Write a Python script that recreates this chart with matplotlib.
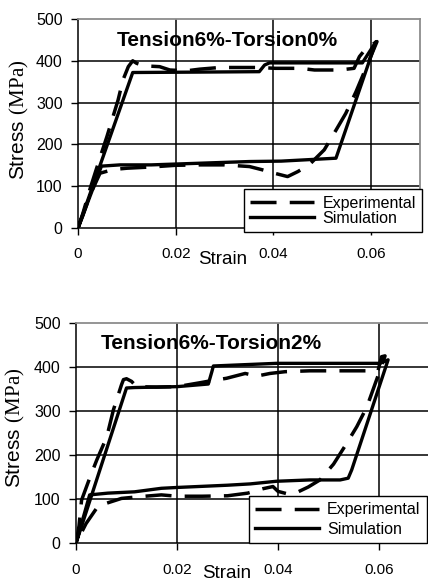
import matplotlib
matplotlib.use("Agg")
import matplotlib.pyplot as plt

plt.rcParams['font.family'] = ['Liberation Sans', 'DejaVu Sans']
plt.rcParams['mathtext.fontset'] = 'custom'
plt.rcParams['mathtext.rm'] = 'Liberation Serif'
plt.rcParams['mathtext.sf'] = 'Liberation Sans'

# Tension 6% - Torsion 0%
exp0_strain = [0, 0.0010, 0.0025, 0.0048, 0.0059, 0.0082, 0.0092, 0.0103, 0.0112, 0.0120,
               0.0135, 0.0167, 0.0188, 0.0222, 0.0249, 0.0290, 0.0322, 0.0370, 0.0404, 0.0455,
               0.0484, 0.0535, 0.0565, 0.0576, 0.0590, 0.0612,
               0.0569, 0.0548, 0.0528, 0.0504, 0.0473, 0.0450, 0.0429, 0.0399, 0.0378, 0.0351,
               0.0300, 0.0250, 0.0200, 0.0150, 0.0100, 0.0072, 0.0045, 0.0025, 0.0010, 0]
exp0_stress = [0, 35, 95, 179, 218, 306, 354, 386, 400, 394,
               388, 386, 378, 376, 380, 384, 384, 384, 382, 382,
               378, 378, 382, 410, 430, 446,
               326, 274, 234, 187, 151, 135, 123, 132, 139, 147,
               151, 151, 150, 146, 143, 140, 131, 80, 30, 0]

sim0_strain = [0, 0.0112, 0.0250, 0.0371, 0.0382, 0.0392, 0.0500, 0.0582, 0.0610,
               0.0528, 0.0480, 0.0416, 0.0351, 0.0300, 0.0200, 0.0150, 0.0086, 0.0048, 0]
sim0_stress = [0, 372, 373, 374, 390, 395, 395, 395, 446,
               167, 164, 160, 159, 157, 153, 151, 151, 148, 0]

# Tension 6% - Torsion 2%
exp2_strain = [0, 0.0006, 0.0011, 0.0028, 0.0041, 0.0061, 0.0074, 0.0090, 0.0094, 0.0100,
               0.0110, 0.0120, 0.0160, 0.0200, 0.0246, 0.0270, 0.0298, 0.0335, 0.0358, 0.0384,
               0.0414, 0.0463, 0.0543, 0.0598, 0.0605, 0.0612,
               0.0595, 0.0576, 0.0556, 0.0536, 0.0510, 0.0483, 0.0460, 0.0440, 0.0420, 0.0400,
               0.0390, 0.0370, 0.0340, 0.0300, 0.0250, 0.0200, 0.0169, 0.0126, 0.0090, 0.0044,
               0.0020, 0]
exp2_stress = [0, 40, 98, 151, 189, 242, 303, 360, 372, 374,
               368, 356, 355, 356, 365, 370, 375, 386, 380, 386,
               390, 392, 392, 392, 424, 426,
               371, 310, 265, 227, 180, 144, 128, 117, 112, 118,
               129, 124, 114, 108, 107, 107, 110, 106, 102, 85,
               45, 0]

sim2_strain = [0, 0.0100, 0.0116, 0.0200, 0.0262, 0.0269, 0.0272, 0.0397, 0.0602, 0.0618,
               0.0546, 0.0539, 0.0523, 0.0463, 0.0397, 0.0345, 0.0300, 0.0202, 0.0169, 0.0116,
               0.0063, 0.0027, 0]
sim2_stress = [0, 353, 354, 356, 362, 390, 403, 409, 409, 417,
               167, 148, 144, 144, 141, 135, 132, 127, 125, 117,
               114, 110, 0]

xticks = [0, 0.02, 0.04, 0.06]
xtick_labels = ['0', '0.02', '0.04', '0.06']
yticks = [0, 100, 200, 300, 400, 500]
titles = ['Tension6%-Torsion0%', 'Tension6%-Torsion2%']

W, H = 428, 581
fig = plt.figure(figsize=(W / 100, H / 100), dpi=100)
fig.patch.set_facecolor('white')

ax1 = fig.add_axes([78 / W, 1 - 228 / H, 342 / W, 209 / H])
ax2 = fig.add_axes([76 / W, 1 - 543.3 / H, 353.5 / W, 220 / H])

panels = [
    (ax1, exp0_strain, exp0_stress, sim0_strain, sim0_stress, titles[0],
     (0.437, 0.895), dict(loc='lower right', bbox_to_anchor=(1.006, -0.019), labelspacing=0.0)),
    (ax2, exp2_strain, exp2_stress, sim2_strain, sim2_stress, titles[1],
     (0.384, 0.91), dict(loc='lower left', bbox_to_anchor=(0.489, 0.0), labelspacing=0.3)),
]

dash = (0, (7.5, 3.8))

for ax, es, ey, ss, sy, title, tpos, legkw in panels:
    ax.set_xlim(0, 0.07)
    ax.set_ylim(0, 500)
    ax.set_xticks(xticks, labels=xtick_labels)
    ax.set_yticks(yticks)

    ax.grid(True, color='black', lw=1.1, zorder=1)
    ax.get_ygridlines()[-1].set_visible(False)
    ax.get_ygridlines()[0].set_visible(False)
    ax.get_xgridlines()[0].set_visible(False)

    for side in ['top', 'right']:
        ax.spines[side].set_color('#8c8c8c')
        ax.spines[side].set_linewidth(1.3)
    for side in ['left', 'bottom']:
        ax.spines[side].set_color('black')
        ax.spines[side].set_linewidth(1.1)

    ax.tick_params(direction='out', length=5, width=1.0, colors='black')
    ax.tick_params(axis='x', labelsize=11, pad=9)
    ax.tick_params(axis='y', labelsize=11.5, pad=6)

    ax.plot(es, ey, color='black', lw=2.5, linestyle=dash, label='Experimental', zorder=3)
    ax.plot(ss, sy, color='black', lw=2.4, label='Simulation', zorder=3)

    ax.text(tpos[0], tpos[1], title, transform=ax.transAxes, ha='center', va='center',
            fontsize=15, fontweight='bold')

    ax.set_xlabel('Strain', fontsize=13.5, va='center')
    ax.set_ylabel(r'$\mathsf{Stress}\ \mathrm{(MPa)}$', fontsize=15, va='center')

    leg = ax.legend(fontsize=11.5, handlelength=4.0, handletextpad=0.5, borderpad=0.4,
                    borderaxespad=0, fancybox=False, framealpha=1, edgecolor='black', **legkw)
    leg.get_frame().set_linewidth(1.0)
    leg.set_zorder(5)

ax1.xaxis.set_label_coords(0.424, -0.153)
ax1.yaxis.set_label_coords(-0.17, 0.517)
ax2.xaxis.set_label_coords(0.427, -0.135)
ax2.yaxis.set_label_coords(-0.172, 0.526)

fig.savefig('out.png', dpi=100, facecolor='white')
